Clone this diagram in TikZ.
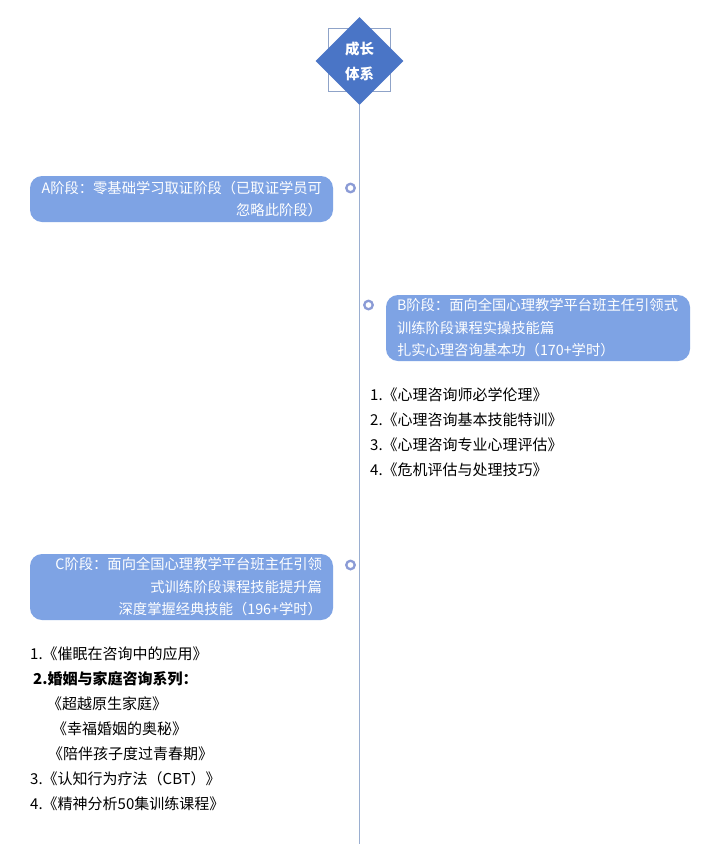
\documentclass[tikz,border=0pt]{standalone}
\usepackage{fontspec}
\setmainfont{Noto Sans CJK SC}
\usetikzlibrary{shapes.geometric}
\definecolor{dia}{HTML}{4A75C6}
\definecolor{boxfill}{HTML}{7EA3E4}
\definecolor{axis}{HTML}{9AAED0}
\definecolor{ring}{HTML}{8B9BD6}
\definecolor{frame}{HTML}{8FA3C8}
\tikzset{
  stagebox/.style={fill=boxfill, rounded corners=12pt, text=white, inner xsep=11pt, inner ysep=0pt,
     font=\fontsize{14.3}{22.5}\selectfont},
  marker/.style={circle, draw=ring, line width=2.3pt, fill=white, minimum size=8.5pt, inner sep=0pt},
  item/.style={anchor=west, inner sep=0pt, text=black, font=\fontsize{15}{17}\selectfont},
}
\begin{document}
\begin{tikzpicture}[x=1pt,y=-1pt]
\useasboundingbox (0,0) rectangle (720,844);
\fill[white] (0,0) rectangle (720,844);
% frame behind diamond
\draw[frame, line width=0.6pt] (328,28) rectangle (390,91);
\coordinate (bottom) at (359.5,844);
\node[diamond, fill=dia, minimum width=88pt, minimum height=88pt, inner sep=0pt, text=white,
      align=center, font=\fontsize{14.5}{25}\selectfont\bfseries] (root) at (359.5,61) {成长\\体系};
\draw[axis, line width=1pt] (root.south) -- (bottom);
% A stage
\node[stagebox, minimum width=303pt, minimum height=46pt, text width=281pt, align=right] (A) at (181.5,199)
  {A阶段：零基础学习取证阶段（已取证学员可\\忽略此阶段）};
\node[marker] (mA) at (350.5,188) {};
% B stage
\node[stagebox, minimum width=304pt, minimum height=66pt, text width=282pt, align=left] (B) at (538,328)
  {B阶段：面向全国心理教学平台班主任引领式\\训练阶段课程实操技能篇\\扎实心理咨询基本功（170+学时）};
\node[marker] (mB) at (368.5,305) {};
\node[item] (b1) at (370,395) {1.《心理咨询师必学伦理》};
\node[item] (b2) at (370,420) {2.《心理咨询基本技能特训》};
\node[item] (b3) at (370,445) {3.《心理咨询专业心理评估》};
\node[item] (b4) at (370,470) {4.《危机评估与处理技巧》};
% C stage
\node[stagebox, minimum width=303pt, minimum height=66pt, text width=281pt, align=right] (C) at (181.5,587)
  {C阶段：面向全国心理教学平台班主任引领\\式训练阶段课程技能提升篇\\深度掌握经典技能（196+学时）};
\node[marker] (mC) at (350.5,565) {};
\node[item] (c1) at (30,654) {1.《催眠在咨询中的应用》};
\node[item, font=\fontsize{15}{17}\selectfont\bfseries] (c2) at (33,679) {2.婚姻与家庭咨询系列：};
\node[item] (c3) at (47,704) {《超越原生家庭》};
\node[item] (c4) at (52,729) {《幸福婚姻的奥秘》};
\node[item] (c5) at (48,754) {《陪伴孩子度过青春期》};
\node[item] (c6) at (30,779) {3.《认知行为疗法（CBT）》};
\node[item] (c7) at (30,804) {4.《精神分析50集训练课程》};
\end{tikzpicture}
\end{document}
